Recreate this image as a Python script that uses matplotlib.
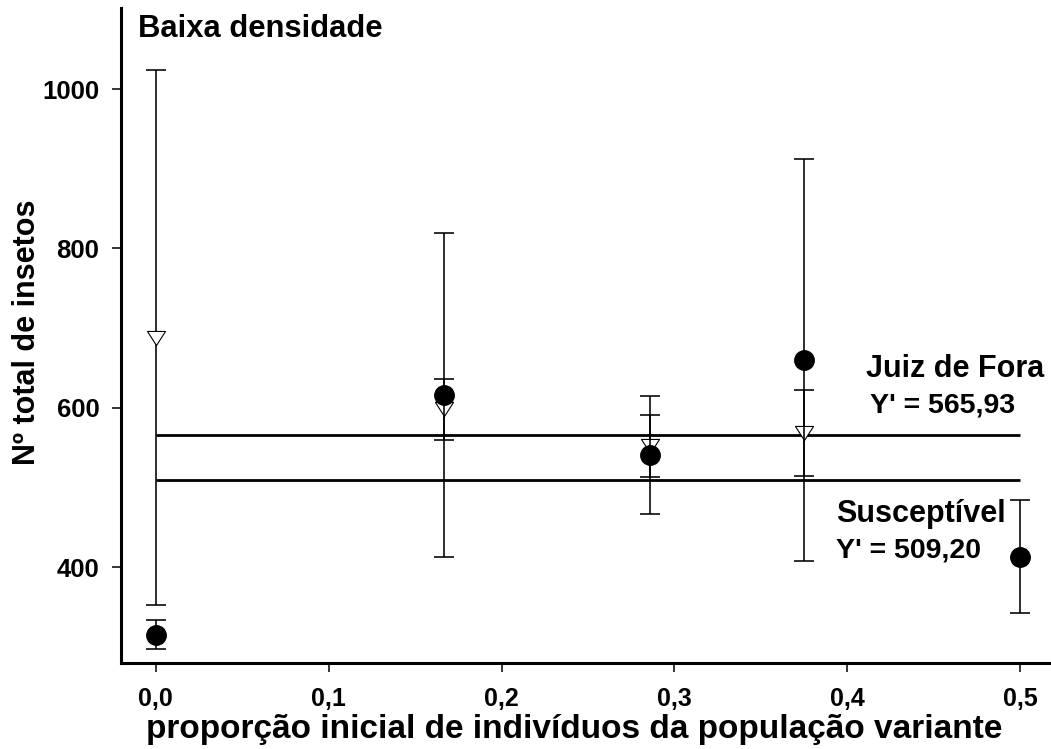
import matplotlib
matplotlib.use('Agg')
import matplotlib.pyplot as plt
from matplotlib.path import Path
from matplotlib.ticker import FixedLocator

plt.rcParams['font.family'] = ['Liberation Sans', 'DejaVu Sans']
plt.rcParams['font.weight'] = 'bold'

# proporção inicial da população variante
prop_circ = [0.0, 0.167, 0.286, 0.375, 0.5]
media_circ = [315, 616, 541, 660, 413]
erro_circ = [18, 203, 74, 252, 71]

prop_tri = [0.0, 0.167, 0.286, 0.375]
media_tri = [688, 598, 552, 568]
erro_tri = [336, 38, 39, 54]

# médias gerais (Y')
media_jf = 565.93
media_sus = 509.20

x_ticks = [0.0, 0.1, 0.2, 0.3, 0.4, 0.5]
x_ticklabels = ['0,0', '0,1', '0,2', '0,3', '0,4', '0,5']
y_ticks = [400, 600, 800, 1000]

fig = plt.figure(figsize=(10.51, 7.49), dpi=100)
ax = fig.add_axes([121 / 1051, 1 - 663 / 749, (1051 - 121) / 1051, (663 - 8) / 749])

# linhas das médias
ax.hlines([media_jf, media_sus], 0, 0.5, colors='black', linewidth=2.0, zorder=1)

# triângulo aberto, um pouco achatado
tri = Path([(-1, 0.78), (1, 0.78), (0, -0.78), (-1, 0.78)],
           [Path.MOVETO, Path.LINETO, Path.LINETO, Path.CLOSEPOLY])
ax.errorbar(prop_tri, media_tri, yerr=erro_tri, fmt='none', ecolor='black',
            elinewidth=1.15, capsize=7.2, capthick=1.15, zorder=2)
ax.plot(prop_tri, media_tri, linestyle='none', marker=tri, markersize=13,
        markerfacecolor='white', markeredgecolor='black', markeredgewidth=0.8, zorder=3)

# círculos cheios
ax.errorbar(prop_circ, media_circ, yerr=erro_circ, fmt='none', ecolor='black',
            elinewidth=1.15, capsize=7.2, capthick=1.15, zorder=4)
ax.plot(prop_circ, media_circ, linestyle='none', marker='o', markersize=14,
        color='black', zorder=5)

ax.set_xlim(-0.0201, 0.5178)
ax.set_ylim(279.5, 1101.8)

ax.xaxis.set_major_locator(FixedLocator(x_ticks))
ax.set_xticklabels(x_ticklabels)
ax.yaxis.set_major_locator(FixedLocator(y_ticks))

for s in ['top', 'right']:
    ax.spines[s].set_visible(False)
for s in ['left', 'bottom']:
    ax.spines[s].set_linewidth(2.2)

ax.tick_params(axis='both', direction='out', length=6.5, width=1.1)
ax.tick_params(axis='y', pad=9, labelsize=18.5)
ax.tick_params(axis='x', pad=11, labelsize=18)

fig.text(574 / 1051, 1 - 738 / 749,
         'proporção inicial de indivíduos da população variante',
         fontsize=24, fontweight='bold', ha='center', va='baseline')
fig.text(27 / 1051, 1 - 332 / 749, 'Nº total de insetos', rotation=90,
         fontsize=22, fontweight='bold', ha='center', va='center')

fig.text(138 / 1051, 1 - 37 / 749, 'Baixa densidade', fontsize=22.3,
         fontweight='bold', ha='left', va='baseline')
fig.text(866 / 1051, 1 - 377 / 749, 'Juiz de Fora', fontsize=22,
         fontweight='bold', ha='left', va='baseline')
fig.text(870 / 1051, 1 - 413 / 749, "Y' = 565,93", fontsize=20.5,
         fontweight='bold', ha='left', va='baseline')
fig.text(836 / 1051, 1 - 522 / 749, 'Susceptível', fontsize=22,
         fontweight='bold', ha='left', va='baseline')
fig.text(836 / 1051, 1 - 558 / 749, "Y' = 509,20", fontsize=20.5,
         fontweight='bold', ha='left', va='baseline')

fig.savefig('out.png', dpi=100)
